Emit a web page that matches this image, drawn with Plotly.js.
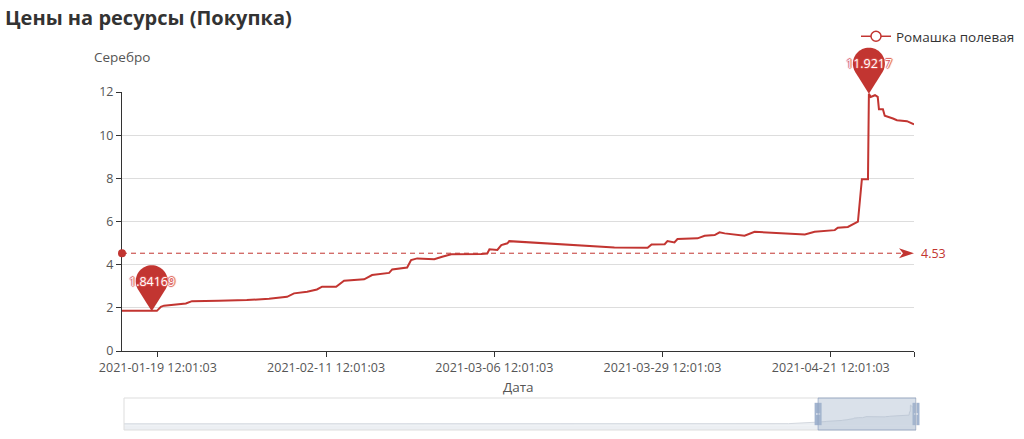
<!DOCTYPE html>
<html>
<head>
<meta charset="utf-8">
<script src="https://cdn.plot.ly/plotly-3.0.1.min.js"></script>
<style>
  html, body { margin: 0; padding: 0; background: #fff; }
  #chart { width: 1024px; height: 439px; }
</style>
</head>
<body>
<div id="chart"></div>
<script>
    // visible window of the series (buy price, silver)
    let dates = [
        '2021-01-14 14:30', '2021-01-17 02:00', '2021-01-18 16:00', '2021-01-19 09:00', '2021-01-19 22:00',
        '2021-01-20 08:00', '2021-01-23 08:00', '2021-01-24 04:00', '2021-01-27 20:00', '2021-01-31 16:00',
        '2021-02-03 17:00', '2021-02-06 04:00', '2021-02-07 03:00', '2021-02-08 22:00', '2021-02-10 06:00',
        '2021-02-10 23:00', '2021-02-12 21:00', '2021-02-13 23:00', '2021-02-16 17:00', '2021-02-17 19:00',
        '2021-02-20 03:00', '2021-02-20 13:00', '2021-02-22 14:00', '2021-02-23 03:00', '2021-02-23 23:00',
        '2021-02-26 07:00', '2021-02-27 09:00', '2021-02-28 15:00', '2021-03-04 17:00', '2021-03-05 13:00',
        '2021-03-05 20:00', '2021-03-06 22:00', '2021-03-07 11:00', '2021-03-08 07:00', '2021-03-08 13:00',
        '2021-03-10 15:00', '2021-03-13 18:00', '2021-03-18 10:00', '2021-03-22 22:00', '2021-03-27 11:00',
        '2021-03-28 00:00', '2021-03-29 19:00', '2021-03-30 04:00', '2021-03-31 03:00', '2021-03-31 13:00',
        '2021-04-03 07:00', '2021-04-04 06:00', '2021-04-05 15:00', '2021-04-06 07:00', '2021-04-07 00:00',
        '2021-04-09 17:00', '2021-04-11 02:00', '2021-04-14 19:00', '2021-04-17 23:00', '2021-04-19 07:00',
        '2021-04-22 01:00', '2021-04-22 11:00', '2021-04-23 20:00', '2021-04-25 05:00', '2021-04-25 18:00',
        '2021-04-26 14:00', '2021-04-26 17:00', '2021-04-26 23:00', '2021-04-27 13:00', '2021-04-27 22:00',
        '2021-04-28 02:00', '2021-04-28 15:00', '2021-04-28 21:00', '2021-04-30 00:00', '2021-04-30 13:00',
        '2021-05-01 22:00', '2021-05-02 21:00'
    ];
    let prices = [
        1.87, 1.86, 1.84169, 1.86, 2.05,
        2.10, 2.20, 2.31, 2.33, 2.36,
        2.42, 2.51, 2.67, 2.75, 2.85,
        2.98, 2.98, 3.26, 3.32, 3.52,
        3.62, 3.78, 3.87, 4.21, 4.29,
        4.25, 4.37, 4.48, 4.49, 4.52,
        4.71, 4.68, 4.91, 4.99, 5.09,
        5.05, 4.98, 4.88, 4.80, 4.78,
        4.94, 4.95, 5.09, 5.03, 5.19,
        5.22, 5.34, 5.37, 5.50, 5.45,
        5.34, 5.52, 5.45, 5.40, 5.52,
        5.60, 5.71, 5.75, 5.99, 7.96,
        7.96, 11.9217, 11.77, 11.85, 11.77,
        11.20, 11.20, 10.90, 10.77, 10.69,
        10.65, 10.50
    ];
    // older part, only seen in the zoom slider shadow
    let historyDates = ['2018-12-09', '2019-07-01', '2020-01-15', '2020-07-01', '2020-12-13'];
    let historyPrices = [0.85, 0.85, 0.9, 0.9, 0.95];

    let tickDates = ['2021-01-19 12:01:03', '2021-02-11 12:01:03', '2021-03-06 12:01:03',
                     '2021-03-29 12:01:03', '2021-04-21 12:01:03'];
    let avgPrice = 4.53;
    let seriesName = 'Ромашка полевая';

    let red = '#c23531';
    let yMax = 12;
    let last = dates.length - 1;

    let iMax = prices.indexOf(Math.max.apply(null, prices));
    let iMin = prices.indexOf(Math.min.apply(null, prices));

    // teardrop "pin" outline, tip at the anchor, head of radius r centred h px above it
    function pinPath(r, h, n) {
        let a = Math.acos(r / h);
        let d = 'M0,0';
        for (let i = 0; i <= n; i++) {
            let phi = a + (2 * Math.PI - 2 * a) * i / n;
            d += ' L' + (r * Math.sin(phi)).toFixed(2) + ',' + (h - r * Math.cos(phi)).toFixed(2);
        }
        return d + ' Z';
    }

    function pinShape(i) {
        return {
            type: 'path', layer: 'above',
            xref: 'x', yref: 'y domain',
            xsizemode: 'pixel', ysizemode: 'pixel',
            xanchor: dates[i], yanchor: prices[i] / yMax,
            path: pinPath(16, 30, 40),
            fillcolor: red, line: {width: 0}
        };
    }

    function pinLabel(i) {
        return {
            x: dates[i], y: prices[i], xref: 'x', yref: 'y',
            text: String(prices[i]), showarrow: false, yshift: 30,
            font: {size: 12.5, color: '#fff', shadow: '1px 0 1px #d9534f, -1px 0 1px #d9534f, 0 1px 1px #d9534f, 0 -1px 1px #d9534f'}
        };
    }

    let axisFont = {family: 'Open Sans, sans-serif', size: 12.5, color: '#555'};
    let nameFont = {family: 'Open Sans, sans-serif', size: 13.5, color: '#555'};

    let traces = [
        {
            x: dates, y: prices, xaxis: 'x', yaxis: 'y',
            mode: 'lines', line: {color: red, width: 2},
            showlegend: false, hoverinfo: 'skip'
        },
        {
            x: [null], y: [null], name: seriesName,
            mode: 'lines+markers',
            line: {color: red, width: 1.5},
            marker: {symbol: 'circle', size: 10, color: '#fff', line: {color: red, width: 1.5}}
        },
        {
            x: historyDates.concat(dates), y: historyPrices.concat(prices),
            xaxis: 'x2', yaxis: 'y2',
            mode: 'lines', line: {color: '#d3d8df', width: 1},
            fill: 'tozeroy', fillcolor: '#eceff3',
            showlegend: false, hoverinfo: 'skip'
        },
        {
            // slider handles at both ends of the selected window
            x: [dates[0], dates[last]], y: [6.65, 6.65],
            xaxis: 'x2', yaxis: 'y2', mode: 'markers', cliponaxis: false,
            marker: {symbol: 'line-ns', size: 16, line: {color: '#a2b4cf', width: 7}},
            showlegend: false, hoverinfo: 'skip'
        },
        {
            x: [dates[0], dates[last]], y: [6.65, 6.65],
            xaxis: 'x2', yaxis: 'y2', mode: 'markers', cliponaxis: false,
            marker: {symbol: 'line-ew', size: 3, line: {color: '#fff', width: 1}},
            showlegend: false, hoverinfo: 'skip'
        }
    ];

    let layout = {
        width: 1024, height: 439,
        margin: {l: 122, r: 108, t: 92, b: 9, autoexpand: false},
        paper_bgcolor: '#fff', plot_bgcolor: '#fff',
        font: {family: 'Open Sans, sans-serif', color: '#333'},
        hovermode: false,
        title: {
            text: 'Цены на ресурсы (Покупка)',
            xref: 'container', yref: 'container',
            x: 5 / 1024, xanchor: 'left', y: 1 - 18 / 439, yanchor: 'middle',
            font: {size: 20, weight: 'bold', color: '#333'}
        },
        showlegend: true,
        legend: {
            xref: 'container', yref: 'container',
            x: 1020 / 1024, xanchor: 'right', y: 1 - 21 / 439, yanchor: 'top',
            font: {size: 13.5, color: '#333'}, bgcolor: 'rgba(0,0,0,0)'
        },
        xaxis: {
            type: 'date', domain: [0, 792 / 794], anchor: 'y',
            range: [dates[0], dates[last]],
            tickmode: 'array',
            tickvals: tickDates.concat([dates[last]]),
            ticktext: tickDates.concat(['']),
            ticks: 'outside', ticklen: 5, tickcolor: '#333',
            showline: true, linecolor: '#333', linewidth: 1,
            showgrid: false, zeroline: false,
            tickfont: axisFont
        },
        yaxis: {
            domain: [79 / 338, 1], anchor: 'x',
            range: [0, yMax], dtick: 2,
            ticks: 'outside', ticklen: 5, tickcolor: '#333',
            showline: true, linecolor: '#333', linewidth: 1,
            showgrid: true, gridcolor: '#ddd', zeroline: false,
            tickfont: axisFont
        },
        xaxis2: {
            type: 'date', domain: [2 / 794, 1], anchor: 'y2',
            range: [historyDates[0], dates[last]],
            visible: false
        },
        yaxis2: {
            domain: [0, 32 / 338], anchor: 'x2',
            range: [-2.8, 16.1],
            visible: false
        },
        shapes: [
            // average mark line
            {
                type: 'line', xref: 'x domain', yref: 'y',
                x0: 0, x1: 1 - 12 / 792, y0: avgPrice, y1: avgPrice,
                line: {color: red, width: 1, dash: '5px,4px'}
            },
            {
                type: 'circle', xref: 'x domain', yref: 'y',
                xsizemode: 'pixel', ysizemode: 'pixel',
                xanchor: 0, yanchor: avgPrice,
                x0: -4, x1: 4, y0: -4, y1: 4,
                fillcolor: red, line: {width: 0}
            },
            {
                type: 'path', xref: 'x domain', yref: 'y',
                xsizemode: 'pixel', ysizemode: 'pixel',
                xanchor: 1, yanchor: avgPrice,
                path: 'M0,0 L-15,5 L-11,0 L-15,-5 Z',
                fillcolor: red, line: {width: 0}
            },
            pinShape(iMax),
            pinShape(iMin),
            // slider: base under zero, frame, selected window
            {
                type: 'rect', layer: 'below', xref: 'x2 domain', yref: 'y2',
                x0: 0, x1: 1, y0: -2.8, y1: 0,
                fillcolor: '#eceff3', line: {width: 0}
            },
            {
                type: 'rect', xref: 'x2 domain', yref: 'y2 domain',
                x0: 0, x1: 1, y0: 0, y1: 1,
                line: {color: '#dddddd', width: 1}
            },
            {
                type: 'rect', xref: 'x2', yref: 'y2 domain',
                x0: dates[0], x1: dates[last], y0: 0, y1: 1,
                fillcolor: 'rgba(167,183,204,0.42)',
                line: {color: 'rgba(140,160,192,0.7)', width: 1}
            }
        ],
        annotations: [
            pinLabel(iMax),
            pinLabel(iMin),
            {
                xref: 'x domain', yref: 'y', x: 1, y: avgPrice,
                xanchor: 'left', xshift: 5, showarrow: false,
                text: String(avgPrice), font: {size: 12.5, color: red}
            },
            {
                xref: 'paper', yref: 'paper', x: 0, y: (430 - 57) / 338,
                xanchor: 'center', yanchor: 'middle', showarrow: false,
                text: 'Серебро', font: nameFont
            },
            {
                xref: 'paper', yref: 'paper', x: 396 / 794, y: (430 - 387) / 338,
                xanchor: 'center', yanchor: 'middle', showarrow: false,
                text: 'Дата', font: nameFont
            }
        ]
    };

    Plotly.newPlot('chart', traces, layout, {displayModeBar: false, staticPlot: true});
</script>
</body>
</html>
